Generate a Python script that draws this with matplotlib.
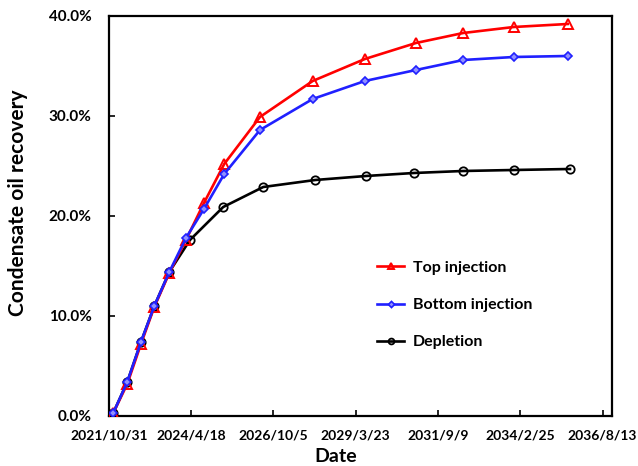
import matplotlib
matplotlib.use("Agg")
import matplotlib.pyplot as plt
import datetime as dt

plt.rcParams['font.family'] = ['Lato', 'DejaVu Sans']
plt.rcParams['font.weight'] = 'bold'

inj_dates = ["2021-12-17", "2022-05-19", "2022-10-16", "2023-03-11", "2023-08-22",
             "2024-02-20", "2024-09-04", "2025-04-14", "2026-05-10", "2027-12-08",
             "2029-07-01", "2031-01-11", "2032-06-11", "2033-12-17", "2035-07-29"]
top_injection = [0.3, 3.2, 7.2, 10.9, 14.3, 17.6, 21.3, 25.2, 29.9, 33.5,
                 35.7, 37.3, 38.3, 38.9, 39.2]
bottom_injection = [0.3, 3.4, 7.4, 11.0, 14.4, 17.8, 20.7, 24.2, 28.6, 31.7,
                    33.5, 34.6, 35.6, 35.9, 36.0]
dep_dates = ["2021-12-17", "2022-05-19", "2022-10-16", "2023-03-11", "2023-08-22",
             "2024-04-04", "2025-04-03", "2026-06-15", "2028-01-05", "2029-07-13",
             "2030-12-20", "2032-06-08", "2033-12-17", "2035-08-23"]
depletion = [0.3, 3.4, 7.4, 11.0, 14.4, 17.6, 20.9, 22.9, 23.6, 24.0,
             24.3, 24.5, 24.6, 24.7]

tick_dates = ["2021-10-31", "2024-04-18", "2026-10-05", "2029-03-23",
              "2031-09-09", "2034-02-25", "2036-08-13"]
tick_labels = ["2021/10/31", "2024/4/18", "2026/10/5", "2029/3/23",
               "2031/9/9", "2034/2/25", "2036/8/13"]
y_ticks = [0, 10, 20, 30, 40]
y_labels = ["0.0%", "10.0%", "20.0%", "30.0%", "40.0%"]

def to_dt(lst):
    return [dt.datetime.strptime(s, "%Y-%m-%d") for s in lst]

fig = plt.figure(figsize=(6.38, 4.66), dpi=100)
ax = fig.add_axes([0.1708, 0.1073, 0.9592 - 0.1708, 0.9657 - 0.1073])

ax.plot(to_dt(inj_dates), top_injection, color='#FF0000', lw=1.9, marker='^',
        ms=7, mfc='none', mec='#FF0000', mew=1.4, label='Top injection', zorder=3)
ax.plot(to_dt(inj_dates), bottom_injection, color='#2020FF', lw=1.9, marker='D',
        ms=4.5, mfc='#9090FF', mec='#2020FF', mew=1.2, label='Bottom injection', zorder=4)
ax.plot(to_dt(dep_dates), depletion, color='black', lw=1.9, marker='o',
        ms=6, mfc='none', mec='black', mew=1.3, label='Depletion', zorder=2)

xmin = dt.datetime(2021, 10, 31)
xmax = xmin + dt.timedelta(days=5503)
ax.set_xlim(xmin, xmax)
ax.set_ylim(0, 40)
ax.set_xticks(to_dt(tick_dates))
ax.set_xticklabels(tick_labels, fontsize=10, fontweight='bold')
ax.set_yticks(y_ticks)
ax.set_yticklabels(y_labels, fontsize=11, fontweight='bold')
ax.tick_params(direction='in', length=4, width=1.2)
ax.tick_params(axis='x', pad=10)
ax.tick_params(axis='y', pad=12.5)
ax.minorticks_off()
for s in ax.spines.values():
    s.set_linewidth(1.6)

ax.set_xlabel('Date', fontsize=14, fontweight='bold')
ax.xaxis.set_label_coords(0.451, -0.08)
ax.set_ylabel('Condensate oil recovery', fontsize=15, fontweight='bold')
ax.yaxis.set_label_coords(-0.161, 0.532)

leg = ax.legend(loc='center left', bbox_to_anchor=(369 / 638, 1 - 305 / 466),
                bbox_transform=fig.transFigure, frameon=False, borderpad=0,
                prop={'size': 11.5, 'weight': 'bold'}, labelspacing=1.45,
                handlelength=1.7, handletextpad=0.56, markerscale=0.7)

fig.savefig('out.png', dpi=100)
